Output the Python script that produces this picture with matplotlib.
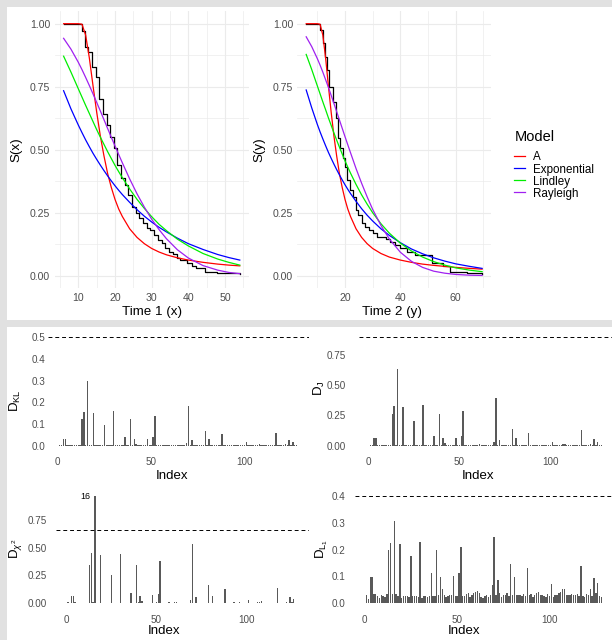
import matplotlib
matplotlib.use('Agg')
import matplotlib.pyplot as plt
from matplotlib.patches import Rectangle
from matplotlib.lines import Line2D
from matplotlib.ticker import MultipleLocator

plt.rcParams['font.family'] = ['Liberation Sans', 'DejaVu Sans']
plt.rcParams['mathtext.fontset'] = 'custom'
plt.rcParams['mathtext.rm'] = 'Liberation Sans'
plt.rcParams['mathtext.it'] = 'Liberation Sans:italic'
plt.rcParams['mathtext.bf'] = 'Liberation Sans:bold'

# ---------------- survival curves, time 1 (x) ----------------
km1_t = [6, 10.9, 11.7, 12.7, 13.6, 14.7, 15.7, 16.8, 17.7, 18.6, 19.6, 20.6, 21.7, 22.7,
         23.6, 24.7, 25.6, 26.5, 27.6, 28.7, 29.6, 30.7, 31.8, 32.7, 33.6, 34.7, 35.7,
         36.8, 37.7, 39.5, 40.9, 42.2, 44.5, 47.7, 54]
km1_s = [1.0, 0.97, 0.906, 0.889, 0.83, 0.79, 0.70, 0.64, 0.597, 0.55, 0.505, 0.44, 0.386, 0.36,
         0.32, 0.274, 0.247, 0.228, 0.208, 0.188, 0.181, 0.161, 0.142, 0.129, 0.109, 0.095, 0.085,
         0.072, 0.062, 0.049, 0.04, 0.03, 0.016, 0.009, 0.005]

fit1_t = [6, 8, 10, 11, 12, 13, 14, 15, 16, 17, 18, 19, 20, 21, 22, 24, 26, 28, 30, 32, 34,
          37, 40, 44, 48, 51, 54]
a1 = [1.0, 1.0, 1.0, 0.998, 0.955, 0.865, 0.755, 0.65, 0.555, 0.475, 0.405, 0.35, 0.303, 0.265,
      0.235, 0.186, 0.152, 0.127, 0.108, 0.094, 0.083, 0.071, 0.062, 0.053, 0.046, 0.042, 0.039]
exp1 = [0.734, 0.662, 0.598, 0.568, 0.539, 0.512, 0.486, 0.462, 0.439, 0.417, 0.396, 0.376, 0.357,
        0.339, 0.322, 0.291, 0.262, 0.236, 0.213, 0.192, 0.174, 0.149, 0.127, 0.104, 0.084, 0.072, 0.062]
lind1 = [0.871, 0.808, 0.742, 0.709, 0.676, 0.644, 0.612, 0.580, 0.550, 0.521, 0.492, 0.465, 0.438,
         0.413, 0.389, 0.344, 0.303, 0.267, 0.234, 0.204, 0.179, 0.145, 0.118, 0.088, 0.066, 0.053, 0.042]
ray1 = [0.942, 0.899, 0.847, 0.818, 0.787, 0.755, 0.722, 0.688, 0.654, 0.619, 0.584, 0.549, 0.515,
        0.481, 0.448, 0.384, 0.325, 0.272, 0.224, 0.183, 0.147, 0.103, 0.070, 0.040, 0.022, 0.013, 0.008]

# ---------------- survival curves, time 2 (y) ----------------
km2_t = [6, 11.0, 11.9, 12.8, 13.6, 14.3, 15.8, 16.7, 17.6, 18.2, 19.2, 20.0, 20.8, 21.8, 23.0,
         24.0, 24.8, 26.0, 27.2, 28.8, 30.2, 31.7, 34.8, 36.3, 38.1, 39.9, 42.3, 45.3, 51.3,
         55.5, 57.9, 63.9, 69.5]
km2_s = [1.0, 0.975, 0.922, 0.869, 0.816, 0.75, 0.688, 0.624, 0.545, 0.505, 0.466, 0.433, 0.38,
         0.34, 0.313, 0.26, 0.241, 0.208, 0.194, 0.181, 0.168, 0.155, 0.146, 0.135, 0.122, 0.108,
         0.093, 0.082, 0.049, 0.04, 0.016, 0.009, 0.005]

fit2_t = [6, 8, 10, 11, 12, 13, 14, 15, 16, 17, 18, 19, 20, 21, 22, 24, 26, 28, 30, 33, 36,
          40, 44, 48, 52, 56, 60, 65, 69.5]
a2 = [1.0, 1.0, 1.0, 0.998, 0.955, 0.865, 0.755, 0.65, 0.555, 0.475, 0.405, 0.35, 0.303, 0.265,
      0.235, 0.186, 0.152, 0.127, 0.108, 0.088, 0.074, 0.062, 0.053, 0.046, 0.041, 0.037, 0.033,
      0.029, 0.026]
exp2 = [0.737, 0.666, 0.601, 0.571, 0.543, 0.516, 0.490, 0.466, 0.443, 0.421, 0.400, 0.380, 0.361,
        0.343, 0.326, 0.295, 0.266, 0.240, 0.217, 0.186, 0.160, 0.131, 0.106, 0.087, 0.071, 0.058,
        0.047, 0.037, 0.029]
lind2 = [0.878, 0.818, 0.754, 0.722, 0.690, 0.659, 0.627, 0.597, 0.567, 0.538, 0.510, 0.483, 0.456,
         0.431, 0.407, 0.362, 0.321, 0.284, 0.250, 0.206, 0.169, 0.129, 0.098, 0.074, 0.056, 0.042,
         0.031, 0.022, 0.016]
ray2 = [0.948, 0.909, 0.862, 0.836, 0.808, 0.778, 0.748, 0.716, 0.684, 0.651, 0.618, 0.585, 0.552,
        0.520, 0.488, 0.425, 0.367, 0.313, 0.263, 0.199, 0.146, 0.093, 0.057, 0.033, 0.018, 0.010,
        0.005, 0.002, 0.001]

models = ['A', 'Exponential', 'Lindley', 'Rayleigh']
model_colors = ['#ff0000', '#0000ff', '#00ee00', '#a020f0']

# ---------------- influence diagnostics ----------------
index = list(range(1, 129))
d_kl = [0.003, 0.002, 0.030, 0.030, 0.004, 0.002, 0.001, 0.002, 0.001, 0.002,
        0.002, 0.003, 0.125, 0.155, 0.004, 0.300, 0.003, 0.002, 0.150, 0.002,
        0.001, 0.002, 0.002, 0.003, 0.095, 0.002, 0.001, 0.002, 0.002, 0.160,
        0.002, 0.001, 0.002, 0.003, 0.002, 0.038, 0.002, 0.001, 0.125, 0.004,
        0.030, 0.006, 0.002, 0.001, 0.002, 0.002, 0.003, 0.030, 0.002, 0.004,
        0.038, 0.137, 0.002, 0.001, 0.002, 0.003, 0.004, 0.002, 0.003, 0.004,
        0.005, 0.003, 0.002, 0.001, 0.002, 0.002, 0.003, 0.002, 0.013, 0.185,
        0.003, 0.025, 0.002, 0.001, 0.002, 0.002, 0.003, 0.002, 0.066, 0.003,
        0.029, 0.002, 0.001, 0.002, 0.002, 0.003, 0.002, 0.052, 0.002, 0.001,
        0.002, 0.003, 0.004, 0.002, 0.003, 0.004, 0.002, 0.001, 0.002, 0.003,
        0.015, 0.002, 0.001, 0.002, 0.003, 0.004, 0.005, 0.006, 0.002, 0.001,
        0.002, 0.003, 0.002, 0.001, 0.002, 0.002, 0.058, 0.002, 0.001, 0.002,
        0.003, 0.006, 0.003, 0.024, 0.004, 0.015, 0.003, 0.002]
d_j = [0.008, 0.005, 0.060, 0.060, 0.008, 0.005, 0.003, 0.004, 0.003, 0.004,
       0.004, 0.006, 0.260, 0.325, 0.008, 0.630, 0.006, 0.005, 0.317, 0.004,
       0.003, 0.004, 0.004, 0.006, 0.204, 0.004, 0.003, 0.004, 0.004, 0.336,
       0.004, 0.003, 0.004, 0.006, 0.004, 0.077, 0.004, 0.003, 0.265, 0.008,
       0.060, 0.020, 0.005, 0.003, 0.004, 0.004, 0.006, 0.066, 0.004, 0.008,
       0.077, 0.290, 0.004, 0.003, 0.004, 0.006, 0.008, 0.004, 0.006, 0.008,
       0.010, 0.006, 0.004, 0.003, 0.004, 0.004, 0.006, 0.004, 0.030, 0.390,
       0.006, 0.050, 0.004, 0.003, 0.004, 0.004, 0.006, 0.004, 0.135, 0.006,
       0.060, 0.004, 0.003, 0.004, 0.004, 0.006, 0.004, 0.108, 0.004, 0.003,
       0.004, 0.006, 0.008, 0.004, 0.006, 0.008, 0.004, 0.003, 0.004, 0.006,
       0.030, 0.004, 0.003, 0.004, 0.006, 0.008, 0.010, 0.013, 0.004, 0.003,
       0.004, 0.006, 0.004, 0.003, 0.004, 0.004, 0.127, 0.004, 0.003, 0.004,
       0.006, 0.013, 0.006, 0.052, 0.008, 0.033, 0.006, 0.004]
d_chi2 = [0.008, 0.005, 0.068, 0.068, 0.008, 0.005, 0.003, 0.004, 0.003, 0.004,
          0.004, 0.006, 0.342, 0.452, 0.008, 0.967, 0.006, 0.005, 0.431, 0.004,
          0.003, 0.004, 0.004, 0.006, 0.253, 0.004, 0.003, 0.004, 0.004, 0.446,
          0.004, 0.003, 0.004, 0.006, 0.004, 0.089, 0.004, 0.003, 0.342, 0.008,
          0.068, 0.024, 0.005, 0.003, 0.004, 0.004, 0.006, 0.074, 0.004, 0.008,
          0.083, 0.378, 0.004, 0.003, 0.004, 0.006, 0.008, 0.004, 0.006, 0.008,
          0.010, 0.006, 0.004, 0.003, 0.004, 0.004, 0.006, 0.004, 0.030, 0.529,
          0.006, 0.054, 0.004, 0.003, 0.004, 0.004, 0.006, 0.004, 0.164, 0.006,
          0.065, 0.004, 0.003, 0.004, 0.004, 0.006, 0.004, 0.125, 0.004, 0.003,
          0.004, 0.006, 0.008, 0.004, 0.006, 0.008, 0.004, 0.003, 0.004, 0.006,
          0.030, 0.004, 0.003, 0.004, 0.006, 0.008, 0.010, 0.021, 0.004, 0.003,
          0.004, 0.006, 0.004, 0.003, 0.004, 0.004, 0.139, 0.004, 0.003, 0.004,
          0.006, 0.015, 0.006, 0.057, 0.008, 0.036, 0.006, 0.004]
d_l1 = [0.029, 0.016, 0.097, 0.097, 0.035, 0.033, 0.026, 0.021, 0.032, 0.026,
        0.024, 0.035, 0.198, 0.223, 0.035, 0.307, 0.035, 0.026, 0.220, 0.020,
        0.026, 0.028, 0.027, 0.022, 0.176, 0.025, 0.028, 0.026, 0.024, 0.229,
        0.021, 0.027, 0.026, 0.023, 0.028, 0.111, 0.025, 0.027, 0.200, 0.030,
        0.097, 0.051, 0.030, 0.024, 0.028, 0.032, 0.029, 0.101, 0.027, 0.026,
        0.111, 0.211, 0.028, 0.025, 0.034, 0.037, 0.022, 0.030, 0.038, 0.041,
        0.044, 0.036, 0.022, 0.018, 0.026, 0.029, 0.024, 0.031, 0.066, 0.245,
        0.031, 0.088, 0.036, 0.024, 0.030, 0.031, 0.036, 0.028, 0.145, 0.029,
        0.097, 0.029, 0.031, 0.032, 0.028, 0.034, 0.027, 0.130, 0.029, 0.033,
        0.024, 0.031, 0.036, 0.043, 0.030, 0.032, 0.028, 0.024, 0.033, 0.025,
        0.070, 0.024, 0.029, 0.032, 0.038, 0.043, 0.052, 0.051, 0.029, 0.031,
        0.029, 0.033, 0.030, 0.031, 0.033, 0.027, 0.139, 0.028, 0.023, 0.034,
        0.031, 0.051, 0.027, 0.093, 0.036, 0.074, 0.025, 0.022]
cut_kl, cut_j, cut_chi2, cut_l1 = 0.5, 0.895, 0.66, 0.4

# ---------------- layout (pixel helpers) ----------------
W, H = 612, 640
TXT = '#4d4d4d'
fig = plt.figure(figsize=(W / 100, H / 100), dpi=100, facecolor='#e1e1e1')
fig.add_artist(Rectangle((7 / W, 1 - 319.5 / H), (W - 7) / W, (319.5 - 7) / H,
                         transform=fig.transFigure, facecolor='white', edgecolor='none', zorder=-5))
fig.add_artist(Rectangle((7 / W, 0), (W - 7) / W, (H - 327) / H,
                         transform=fig.transFigure, facecolor='white', edgecolor='none', zorder=-5))


def make_axes(box):
    x0, y0, x1, y1 = box
    ax = fig.add_axes([x0 / W, 1 - y1 / H, (x1 - x0) / W, (y1 - y0) / H])
    ax.set_facecolor('none')
    for s in ax.spines.values():
        s.set_visible(False)
    return ax


def frac(box, px, py):
    x0, y0, x1, y1 = box
    return (px - x0) / (x1 - x0), (y1 - py) / (y1 - y0)


# ---------------- top: survival plots ----------------
surv = [
    dict(box=(54.8, 11.1, 248.6, 288.3), xlim=(3.6, 56.4), kt=km1_t, ks=km1_s, ft=fit1_t,
         fits=[a1, exp1, lind1, ray1], xmaj=[10, 20, 30, 40, 50], xmin=5,
         xlabel='Time 1 (x)', ylabel='S(x)', xl=(151.7, 315.5), yl=(16, 149.7), ypad=3.4),
    dict(box=(297.4, 11.1, 490.9, 288.3), xlim=(2.825, 72.675), kt=km2_t, ks=km2_s, ft=fit2_t,
         fits=[a2, exp2, lind2, ray2], xmaj=[20, 40, 60], xmin=10,
         xlabel='Time 2 (y)', ylabel='S(y)', xl=(391.7, 315.5), yl=(259, 149.7), ypad=3.0),
]
for p in surv:
    ax = make_axes(p['box'])
    ax.set_facecolor('white')
    ax.step(p['kt'], p['ks'], where='post', color='black', lw=0.9, zorder=2)
    for vals, col in zip(p['fits'], model_colors):
        ax.plot(p['ft'], vals, color=col, lw=0.9, zorder=3)
    ax.set_xlim(*p['xlim'])
    ax.set_ylim(-0.05, 1.05)
    ax.set_xticks(p['xmaj'])
    ax.xaxis.set_minor_locator(MultipleLocator(p['xmin']))
    ax.set_yticks([0, 0.25, 0.5, 0.75, 1.0])
    ax.set_yticklabels(['0.00', '0.25', '0.50', '0.75', '1.00'])
    ax.yaxis.set_minor_locator(MultipleLocator(0.125))
    ax.grid(which='major', color='#ebebeb', lw=0.8)
    ax.grid(which='minor', color='#ebebeb', lw=0.5)
    ax.set_axisbelow(True)
    ax.tick_params(which='both', length=0, labelsize=7.6, labelcolor=TXT)
    ax.tick_params(axis='y', pad=p['ypad'])
    ax.tick_params(axis='x', pad=3.2)
    ax.set_xlabel(p['xlabel'], fontsize=9.6, va='baseline', ha='center')
    ax.xaxis.set_label_coords(*frac(p['box'], *p['xl']))
    ax.set_ylabel(p['ylabel'], fontsize=9.6, va='center', ha='center')
    ax.yaxis.set_label_coords(*frac(p['box'], *p['yl']))

fig.text(515 / W, 1 - 136.7 / H, 'Model', fontsize=10.5, ha='left', va='center')
handles = [Line2D([], [], color=c, lw=0.9) for c in model_colors]
leg = fig.legend(handles, models, loc='center left',
                 bbox_to_anchor=(514 / W, 1 - 175.5 / H), frameon=False, fontsize=8.4,
                 handlelength=0.95, handletextpad=0.65, labelspacing=0.0,
                 borderpad=0, borderaxespad=0)

# ---------------- bottom: influence plots ----------------
diag = [
    dict(box=(47.8, 332, 308.5, 451), vals=d_kl, cut=cut_kl, ylim=(-0.025, 0.525),
         yt=[0, 0.1, 0.2, 0.3, 0.4, 0.5], ytl=['0.0', '0.1', '0.2', '0.3', '0.4', '0.5'],
         ylabel=r'D$_{\mathrm{KL}}$', ypad=2.0, xpad=4.1, xl=(171.7, 479.3), yl=(15.5, 401)),
    dict(box=(358.9, 332, 612.9, 451), vals=d_j, cut=cut_j, ylim=(-0.045, 0.94),
         yt=[0, 0.25, 0.5, 0.75], ytl=['0.00', '0.25', '0.50', '0.75'],
         ylabel=r'D$_{\mathrm{J}}$', ypad=9.3, xpad=4.1, xl=(478.3, 479.3), yl=(319, 388.5)),
    dict(box=(56.4, 490.5, 308.8, 608.5), vals=d_chi2, cut=cut_chi2, ylim=(-0.048, 1.015),
         yt=[0, 0.25, 0.5, 0.75], ytl=['0.00', '0.25', '0.50', '0.75'],
         ylabel=r'D$_{\chi^2}$', ypad=7.0, xpad=4.7, xl=(164.2, 634.3), yl=(16, 548.5)),
    dict(box=(354.8, 490.5, 613.1, 608.5), vals=d_l1, cut=cut_l1, ylim=(-0.02, 0.42),
         yt=[0, 0.1, 0.2, 0.3, 0.4], ytl=['0.0', '0.1', '0.2', '0.3', '0.4'],
         ylabel=r'D$_{\mathrm{L}_1}$', ypad=7.1, xpad=4.6, xl=(464.2, 634.3), yl=(321.5, 548.5)),
]
for p in diag:
    ax = make_axes(p['box'])
    ax.bar(index, p['vals'], width=0.75, color='#595959', linewidth=0)
    ax.axhline(p['cut'], color='black', lw=0.7, dashes=(4, 3))
    ax.set_xlim(-5.35, 134.35)
    ax.set_ylim(*p['ylim'])
    ax.set_xticks([0, 50, 100])
    ax.set_yticks(p['yt'])
    ax.set_yticklabels(p['ytl'])
    ax.tick_params(length=0, labelsize=7.1, labelcolor=TXT)
    ax.tick_params(axis='y', pad=p['ypad'])
    ax.tick_params(axis='x', pad=p['xpad'])
    ax.set_xlabel('Index', fontsize=9.5, va='baseline', ha='center')
    ax.xaxis.set_label_coords(*frac(p['box'], *p['xl']))
    ax.set_ylabel(p['ylabel'], fontsize=9.5, va='center', ha='center')
    ax.yaxis.set_label_coords(*frac(p['box'], *p['yl']))
    if p['vals'] is d_chi2:
        top = max(d_chi2)
        i_top = index[d_chi2.index(top)]
        ax.annotate(str(i_top), xy=(i_top, top - 0.009), xytext=(-3.2, 0),
                    textcoords='offset points', ha='right', va='center', fontsize=6.4)

fig.savefig('out.png', dpi=100, facecolor=fig.get_facecolor())
